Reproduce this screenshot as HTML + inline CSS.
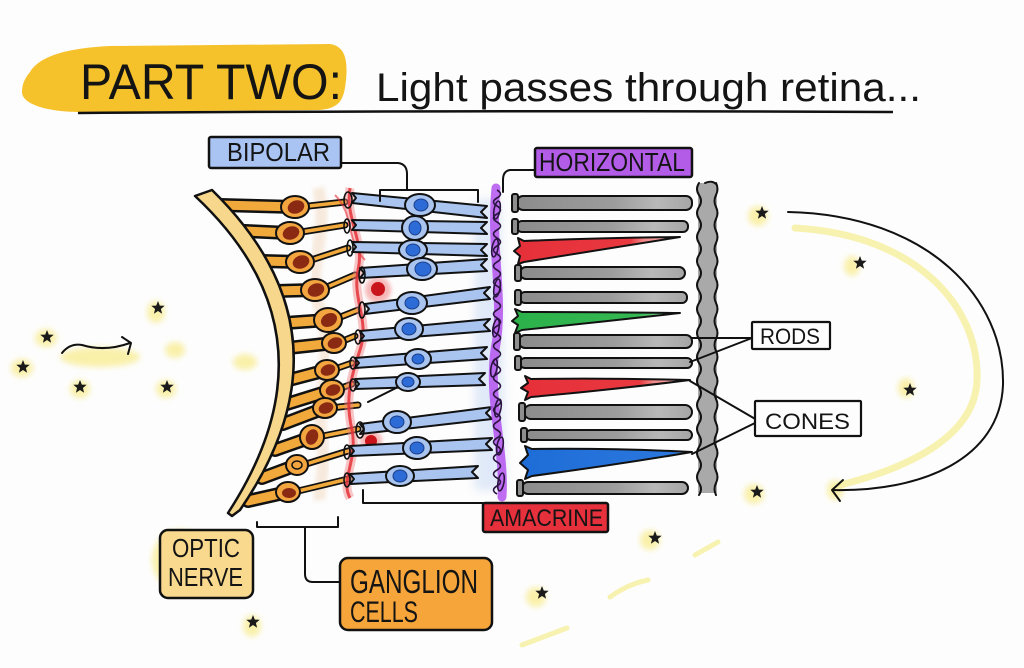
<!DOCTYPE html>
<html><head><meta charset="utf-8">
<style>
html,body{margin:0;padding:0;background:#fdfdfd;}
svg{display:block;}
text{font-family:"Liberation Sans",sans-serif;fill:#141414;}
.bp{fill:#a8c4ef;stroke:#111;stroke-width:2;stroke-linejoin:round;}
.bn{fill:#a8c4ef;stroke:#111;stroke-width:2;}
.bk{fill:#2d6bd6;stroke:#1a3f8a;stroke-width:1;}
.ax1{stroke:#111;stroke-width:14;stroke-linecap:round;fill:none;}
.ax2{stroke:#f2a93b;stroke-width:9;stroke-linecap:round;fill:none;}
.dn1{stroke:#111;stroke-width:7;stroke-linecap:round;fill:none;}
.dn2{stroke:#f2a93b;stroke-width:3.5;stroke-linecap:round;fill:none;}
.gn{fill:#f3a640;stroke:#111;stroke-width:2;}
.gk{fill:#8b2a12;}
.rod{fill:url(#rg);stroke:#111;stroke-width:2;}
.ft{fill:#8e8e8e;stroke:#111;stroke-width:2;}
.ln{stroke:#111;stroke-width:2;fill:none;stroke-linecap:round;stroke-linejoin:round;}
.gl{fill:#f7ea7e;opacity:.65;}
</style></head>
<body>
<svg width="1024" height="668" viewBox="0 0 1024 668" xmlns="http://www.w3.org/2000/svg">
<defs>
<filter id="bl" x="-60%" y="-60%" width="220%" height="220%"><feGaussianBlur stdDeviation="3"/></filter>
<filter id="bl2" x="-30%" y="-30%" width="160%" height="160%"><feGaussianBlur stdDeviation="2"/></filter>
<filter id="bl3" x="-30%" y="-10%" width="160%" height="120%"><feGaussianBlur stdDeviation="5"/></filter>
<polygon id="st" points="0,-7 1.8,-2.4 6.7,-2.2 2.9,1 4.1,5.7 0,3 -4.1,5.7 -2.9,1 -6.7,-2.2 -1.8,-2.4" fill="#1a1a1a"/>
<linearGradient id="rg" x1="0" x2="1" y1="0" y2="0"><stop offset="0" stop-color="#8c8c8c"/><stop offset="0.55" stop-color="#9c9c9c"/><stop offset="0.8" stop-color="#b8b8b8"/><stop offset="1" stop-color="#a5a5a5"/></linearGradient>
<linearGradient id="rc" x1="0" x2="1" y1="0" y2="0"><stop offset="0" stop-color="#e5303a"/><stop offset="0.7" stop-color="#e9383f"/><stop offset="0.78" stop-color="#f28888"/><stop offset="1" stop-color="#f8c0c0"/></linearGradient>
<linearGradient id="gc" x1="0" x2="1" y1="0" y2="0"><stop offset="0" stop-color="#2cb24a"/><stop offset="0.75" stop-color="#35b752"/><stop offset="1" stop-color="#a8e0b0"/></linearGradient>
<linearGradient id="bc" x1="0" x2="1" y1="0" y2="0"><stop offset="0" stop-color="#1e6cd6"/><stop offset="0.9" stop-color="#2a78de"/><stop offset="1" stop-color="#9cc0ee"/></linearGradient>
</defs>
<rect width="1024" height="668" fill="#fdfdfd"/>

<!-- Title -->
<path d="M30 72 C40 55,70 48,110 46 L330 44 C345 46,348 60,346 80 C344 100,340 108,320 110 L80 112 C50 112,22 105,22 92 C22 84,25 78,30 72 Z" fill="#f6c22c"/>
<text x="80" y="99" font-size="50" textLength="262" lengthAdjust="spacingAndGlyphs">PART TWO:</text>
<text x="376" y="101" font-size="40" textLength="545" lengthAdjust="spacingAndGlyphs">Light passes through retina...</text>
<path d="M78 113 Q480 110 893 112" stroke="#111" stroke-width="2.5" fill="none"/>

<!-- yellow glows / stars -->
<g filter="url(#bl)">
<ellipse cx="100" cy="357" rx="40" ry="10" class="gl"/>
<ellipse cx="175" cy="350" rx="10" ry="8" class="gl"/>
<ellipse cx="245" cy="362" rx="12" ry="8" class="gl"/>
<ellipse cx="46" cy="338" rx="11" ry="9" class="gl"/>
<ellipse cx="22" cy="368" rx="11" ry="9" class="gl"/>
<ellipse cx="80" cy="389" rx="10" ry="9" class="gl"/>
<ellipse cx="156" cy="312" rx="9" ry="11" class="gl"/>
<ellipse cx="166" cy="389" rx="10" ry="9" class="gl"/>
<ellipse cx="758" cy="216" rx="10" ry="10" class="gl"/>
<ellipse cx="852" cy="266" rx="8" ry="10" class="gl"/>
<ellipse cx="906" cy="388" rx="8" ry="10" class="gl"/>
<ellipse cx="754" cy="494" rx="10" ry="10" class="gl"/>
<ellipse cx="650" cy="540" rx="10" ry="10" class="gl"/>
<ellipse cx="536" cy="597" rx="10" ry="10" class="gl"/>
<ellipse cx="252" cy="626" rx="9" ry="11" class="gl"/>
<ellipse cx="835" cy="490" rx="8" ry="10" class="gl"/>
<ellipse cx="180" cy="560" rx="28" ry="30" class="gl" opacity=".4"/>
</g>
<g stroke="#f6ef9c" stroke-width="5" stroke-linecap="round" fill="none" opacity=".8">
<path d="M695 555 L718 542"/>
<path d="M610 597 Q628 584 648 580"/>
<path d="M522 645 L567 628"/>
<path d="M795 228 C920 235,980 310,977 380 C975 440,900 470,840 485" stroke-width="7"/>
</g>
<use href="#st" x="47" y="337"/>
<use href="#st" x="23" y="367"/>
<use href="#st" x="80" y="387"/>
<use href="#st" x="158" y="308"/>
<use href="#st" x="167" y="387"/>
<use href="#st" x="762" y="213"/>
<use href="#st" x="860" y="263"/>
<use href="#st" x="910" y="390"/>
<use href="#st" x="757" y="492"/>
<use href="#st" x="655" y="538"/>
<use href="#st" x="542" y="593"/>
<use href="#st" x="253" y="622"/>

<!-- left arrow -->
<path class="ln" d="M62 353 Q70 343 82 345 Q105 352 130 343"/>
<path class="ln" d="M122 337 L131 343 L128 354"/>

<!-- big arc arrow -->
<path class="ln" stroke-width="1.8" d="M788 212 C930 215,1005 300,1003 385 C1000 460,920 492,833 490"/>
<path class="ln" d="M843 480 L832 490 L840 501"/>

<!-- ganglion haze -->
<path d="M318 188 C330 230,305 270,320 310 C335 350,315 400,322 440 C326 470,318 490,320 500" stroke="#e0a060" stroke-width="12" opacity=".2" fill="none" filter="url(#bl2)"/>

<!-- ganglion axons -->
<g>
<path class="ax1" d="M220 205 L295 207"/><path class="ax2" d="M220 205 L295 207"/>
<path class="ax1" d="M245 231 L290 233"/><path class="ax2" d="M245 231 L290 233"/>
<path class="ax1" d="M262 261 L300 262"/><path class="ax2" d="M262 261 L300 262"/>
<path class="ax1" d="M276 291 L315 290"/><path class="ax2" d="M276 291 L315 290"/>
<path class="ax1" d="M285 323 L328 320"/><path class="ax2" d="M285 323 L328 320"/>
<path class="ax1" d="M288 348 L334 343"/><path class="ax2" d="M288 348 L334 343"/>
<path class="ax1" d="M289 380 L327 370"/><path class="ax2" d="M289 380 L327 370"/>
<path class="ax1" d="M287 404 L332 390"/><path class="ax2" d="M287 404 L332 390"/>
<path class="ax1" d="M283 424 L325 408"/><path class="ax2" d="M283 424 L325 408"/>
<path class="ax1" d="M275 450 L312 437"/><path class="ax2" d="M275 450 L312 437"/>
<path class="ax1" d="M262 478 L297 465"/><path class="ax2" d="M262 478 L297 465"/>
<path class="ax1" d="M248 501 L288 492"/><path class="ax2" d="M248 501 L288 492"/>
</g>
<!-- dendrites -->
<g>
<path class="dn1" d="M300 207 L345 202"/><path class="dn2" d="M300 207 L345 202"/>
<path class="dn1" d="M295 233 L345 225"/><path class="dn2" d="M295 233 L345 225"/>
<path class="dn1" d="M305 262 L348 248"/><path class="dn2" d="M305 262 L348 248"/>
<path class="dn1" d="M320 290 L355 275"/><path class="dn2" d="M320 290 L355 275"/>
<path class="dn1" d="M333 320 L358 310"/><path class="dn2" d="M333 320 L358 310"/>
<path class="dn1" d="M338 343 L355 336"/><path class="dn2" d="M338 343 L355 336"/>
<path class="dn1" d="M332 370 L352 363"/><path class="dn2" d="M332 370 L352 363"/>
<path class="dn1" d="M336 390 L352 384"/><path class="dn2" d="M336 390 L352 384"/>
<path class="dn1" d="M330 408 L358 405"/><path class="dn2" d="M330 408 L358 405"/>
<path class="dn1" d="M318 437 L358 429"/><path class="dn2" d="M318 437 L358 429"/>
<path class="dn1" d="M303 465 L348 451"/><path class="dn2" d="M303 465 L348 451"/>
<path class="dn1" d="M294 492 L348 479"/><path class="dn2" d="M294 492 L348 479"/>
</g>

<!-- optic nerve arc -->
<path d="M195 196 L212 190 Q360 335 240 510 L232 516 L228 513 Q344 335 195 196 Z" fill="#f6d78c" stroke="#111" stroke-width="2.5" stroke-linejoin="round"/>

<!-- ganglion nuclei -->
<g>
<ellipse class="gn" cx="295" cy="207" rx="14" ry="11"/><ellipse class="gk" cx="296" cy="207" rx="8.5" ry="6.5" transform="rotate(-20 296 207)"/>
<ellipse class="gn" cx="290" cy="233" rx="14" ry="11"/><ellipse class="gk" cx="291" cy="233" rx="8.5" ry="6.5" transform="rotate(-20 291 233)"/>
<ellipse class="gn" cx="300" cy="262" rx="14" ry="11"/><ellipse class="gk" cx="301" cy="262" rx="8.5" ry="6.5" transform="rotate(-20 301 262)"/>
<ellipse class="gn" cx="315" cy="290" rx="14" ry="11"/><ellipse class="gk" cx="316" cy="290" rx="8.5" ry="6.5" transform="rotate(-20 316 290)"/>
<ellipse class="gn" cx="328" cy="320" rx="14" ry="12"/><ellipse class="gk" cx="329" cy="320" rx="8.5" ry="6.5" transform="rotate(-30 329 320)"/>
<ellipse class="gn" cx="334" cy="343" rx="12" ry="10"/><ellipse class="gk" cx="335" cy="343" rx="7.5" ry="5.5" transform="rotate(-20 335 343)"/>
<ellipse class="gn" cx="327" cy="370" rx="12" ry="10"/><ellipse class="gk" cx="328" cy="370" rx="7.5" ry="5.5" transform="rotate(-20 328 370)"/>
<ellipse class="gn" cx="332" cy="390" rx="12" ry="10"/><ellipse class="gk" cx="333" cy="390" rx="7.5" ry="5.5" transform="rotate(-20 333 390)"/>
<ellipse class="gn" cx="325" cy="408" rx="12" ry="10"/><ellipse class="gk" cx="326" cy="408" rx="7.5" ry="5.5" transform="rotate(-20 326 408)"/>
<ellipse class="gn" cx="312" cy="437" rx="12" ry="12"/><ellipse class="gk" cx="312" cy="437" rx="6" ry="8" transform="rotate(20 312 437)"/>
<ellipse class="gn" cx="297" cy="465" rx="11" ry="10"/><ellipse cx="297" cy="465" rx="5" ry="4" fill="none" stroke="#111" stroke-width="1.5"/>
<ellipse class="gn" cx="288" cy="492" rx="12" ry="10"/><ellipse class="gk" cx="289" cy="493" rx="7" ry="5"/>
</g>

<!-- red amacrine -->
<path d="M350 188 C345 220,365 240,358 270 C352 300,370 320,360 350 C350 380,345 400,352 430 C358 460,340 480,350 498" stroke="#f08080" stroke-width="9" opacity=".45" fill="none"/>
<path d="M350 188 C345 220,365 240,358 270 C352 300,370 320,360 350 C350 380,345 400,352 430 C358 460,340 480,350 498" stroke="#e3333a" stroke-width="3" opacity=".85" fill="none"/>
<path d="M335 195 C355 215,345 240,365 260" stroke="#e3333a" stroke-width="2" opacity=".6" fill="none"/>
<circle cx="378" cy="290" r="13" fill="#f07070" opacity=".5" filter="url(#bl2)"/>
<circle cx="378" cy="289" r="7" fill="#c8141a"/>
<circle cx="371" cy="441" r="11" fill="#f07070" opacity=".5" filter="url(#bl2)"/>
<circle cx="371" cy="441" r="6" fill="#c8141a"/>

<!-- bipolar haze -->
<path d="M475 200 L500 200 L505 490 L475 490 Z" fill="#a8c4ef" opacity=".35" filter="url(#bl3)"/>

<!-- bipolar cells -->
<g>
<path class="bp" d="M352,193 L487,206 L481,212 L487,218 L352,203 L356,198 Z"/>
<path class="bp" d="M352,220 L487,222 L481,228 L487,234 L352,230 L356,225 Z"/>
<path class="bp" d="M352,242 L487,244 L481,250 L487,256 L352,252 L356,247 Z"/>
<path class="bp" d="M360,268 L487,259 L481,265 L487,271 L360,278 L364,273 Z"/>
<path class="bp" d="M365,304 L490,287 L484,293 L490,299 L365,314 L369,309 Z"/>
<path class="bp" d="M360,331 L490,319 L484,325 L490,331 L360,341 L364,336 Z"/>
<path class="bp" d="M355,358 L487,347 L481,353 L487,359 L355,368 L359,363 Z"/>
<path class="bp" d="M355,379 L485,373 L479,379 L485,385 L355,389 L359,384 Z"/>
<path class="bp" d="M360,424 L492,407 L486,413 L492,419 L360,434 L364,429 Z"/>
<path class="bp" d="M350,446 L492,438 L486,444 L492,450 L350,456 L354,451 Z"/>
<path class="bp" d="M350,474 L478,466 L472,472 L478,478 L350,484 L354,479 Z"/>
<path class="ln" stroke-width="1.6" d="M408 382 L368 402"/>
</g>
<g>
<ellipse class="bn" cx="420" cy="205" rx="15" ry="11"/><ellipse class="bk" cx="421" cy="205" rx="7" ry="6"/>
<ellipse class="bn" cx="415" cy="228" rx="13" ry="12"/><ellipse class="bk" cx="415" cy="228" rx="6" ry="7"/>
<ellipse class="bn" cx="413" cy="250" rx="14" ry="10"/><ellipse class="bk" cx="413" cy="250" rx="7" ry="6"/>
<ellipse class="bn" cx="422" cy="269" rx="15" ry="11"/><ellipse class="bk" cx="423" cy="269" rx="8" ry="7"/>
<ellipse class="bn" cx="412" cy="303" rx="15" ry="11"/><ellipse class="bk" cx="412" cy="303" rx="7" ry="6"/>
<ellipse class="bn" cx="409" cy="329" rx="14" ry="11"/><ellipse class="bk" cx="409" cy="329" rx="7" ry="6"/>
<ellipse class="bn" cx="418" cy="359" rx="13" ry="10"/><ellipse class="bk" cx="418" cy="359" rx="6" ry="5"/>
<ellipse class="bn" cx="408" cy="382" rx="12" ry="9"/><ellipse class="bk" cx="408" cy="382" rx="6" ry="5"/>
<ellipse class="bn" cx="397" cy="422" rx="14" ry="11"/><ellipse class="bk" cx="397" cy="422" rx="7" ry="6"/>
<ellipse class="bn" cx="417" cy="448" rx="14" ry="11"/><ellipse class="bk" cx="417" cy="448" rx="7" ry="6"/>
<ellipse class="bn" cx="400" cy="476" rx="14" ry="10"/><ellipse class="bk" cx="400" cy="476" rx="7" ry="6"/>
</g>
<!-- synapse squiggles -->
<g fill="none" stroke="#111" stroke-width="1.6">
<ellipse cx="348" cy="200" rx="4" ry="8"/>
<ellipse cx="347" cy="226" rx="3" ry="7"/>
<ellipse cx="350" cy="248" rx="3" ry="8"/>
<ellipse cx="362" cy="275" rx="3" ry="8"/>
<ellipse cx="362" cy="310" rx="3" ry="8"/>
<ellipse cx="358" cy="337" rx="3" ry="7"/>
<ellipse cx="353" cy="363" rx="3" ry="6"/>
<ellipse cx="353" cy="385" rx="3" ry="6"/>
<ellipse cx="360" cy="430" rx="4" ry="8"/>
<ellipse cx="347" cy="452" rx="3" ry="7"/>
<ellipse cx="347" cy="480" rx="3" ry="7"/>
</g>

<!-- purple horizontal layer -->
<path d="M496 188 C490 250,505 300,495 350 C488 400,505 450,502 497" stroke="#b454ee" stroke-width="9" opacity=".85" fill="none" stroke-linecap="round"/>
<g fill="none" stroke="#2a1440" stroke-width="1.6">
<path d="M497 190 q7 4 0 8 q-7 4 0 8 q7 4 0 8 q-7 4 0 8 q7 4 0 8 q-7 4 0 8 q7 4 0 8 q-7 4 0 8 q7 4 0 8 q-7 4 0 8 q7 4 0 8 q-7 4 0 8 q7 4 0 8 q-7 4 0 8 q7 4 0 8 q-7 4 0 8 q7 4 0 8 q-7 4 0 8 q7 4 0 8 q-7 4 0 8 q7 4 0 8 q-7 4 0 8 q7 4 0 8 q-7 4 0 8 q7 4 0 8 q-7 4 0 8 q7 4 0 8 q-7 4 0 8 q7 4 0 8 q-7 4 0 8 q7 4 0 8 q-7 4 0 8 q7 4 0 8 q-7 4 0 8 q7 4 0 8 q-7 4 0 8 q7 4 0 8 q-7 4 0 8"/>
<ellipse cx="497" cy="210" rx="3" ry="9" transform="rotate(10 497 210)"/>
<ellipse cx="495" cy="248" rx="3" ry="9" transform="rotate(10 495 248)"/>
<ellipse cx="497" cy="288" rx="3" ry="9" transform="rotate(10 497 288)"/>
<ellipse cx="496" cy="328" rx="3" ry="9" transform="rotate(10 496 328)"/>
<ellipse cx="494" cy="368" rx="3" ry="9" transform="rotate(10 494 368)"/>
<ellipse cx="498" cy="408" rx="3" ry="9" transform="rotate(10 498 408)"/>
<ellipse cx="500" cy="446" rx="3" ry="9" transform="rotate(10 500 446)"/>
<ellipse cx="501" cy="482" rx="3" ry="9" transform="rotate(10 501 482)"/>
</g>

<!-- pigment wall -->
<rect x="698" y="183" width="19" height="310" fill="#a9a9a9"/>
<path class="ln" stroke-width="1.8" d="M699 183 q-4 6 0 12 q4 6 0 12 q-4 6 0 12 q4 6 0 12 q-4 6 0 12 q4 6 0 12 q-4 6 0 12 q4 6 0 12 q-4 6 0 12 q4 6 0 12 q-4 6 0 12 q4 6 0 12 q-4 6 0 12 q4 6 0 12 q-4 6 0 12 q4 6 0 12 q-4 6 0 12 q4 6 0 12 q-4 6 0 12 q4 6 0 12 q-4 6 0 12 q4 6 0 12 q-4 6 0 12 q4 6 0 12 q-4 6 0 12 q4 6 0 12"/>
<path class="ln" stroke-width="1.8" d="M716 183 q3 6 0 12 q-3 6 0 12 q3 6 0 12 q-3 6 0 12 q3 6 0 12 q-3 6 0 12 q3 6 0 12 q-3 6 0 12 q3 6 0 12 q-3 6 0 12 q3 6 0 12 q-3 6 0 12 q3 6 0 12 q-3 6 0 12 q3 6 0 12 q-3 6 0 12 q3 6 0 12 q-3 6 0 12 q3 6 0 12 q-3 6 0 12 q3 6 0 12 q-3 6 0 12 q3 6 0 12 q-3 6 0 12 q3 6 0 12 q-3 6 0 12"/>
<path class="ln" stroke-width="1.8" d="M705 183 Q712 180 716 184"/>

<!-- rods -->
<g>
<rect class="rod" x="517" y="196" width="175" height="14" rx="6"/><rect class="ft" x="512" y="194" width="6" height="18" rx="2"/>
<rect class="rod" x="517" y="221" width="171" height="11" rx="5"/><rect class="ft" x="512" y="219" width="6" height="15" rx="2"/>
<rect class="rod" x="520" y="267" width="165" height="12" rx="6"/><rect class="ft" x="515" y="265" width="6" height="16" rx="2"/>
<rect class="rod" x="520" y="292" width="167" height="11" rx="5"/><rect class="ft" x="515" y="290" width="6" height="15" rx="2"/>
<rect class="rod" x="519" y="335" width="173" height="13" rx="6"/><rect class="ft" x="514" y="333" width="6" height="17" rx="2"/>
<rect class="rod" x="520" y="358" width="172" height="10" rx="5"/><rect class="ft" x="515" y="356" width="6" height="14" rx="2"/>
<rect class="rod" x="524" y="405" width="168" height="14" rx="7"/><rect class="ft" x="519" y="403" width="6" height="18" rx="2"/>
<rect class="rod" x="526" y="430" width="166" height="10" rx="5"/><rect class="ft" x="521" y="428" width="6" height="14" rx="2"/>
<rect class="rod" x="522" y="482" width="166" height="12" rx="6"/><rect class="ft" x="517" y="480" width="6" height="16" rx="2"/>
</g>
<!-- cones -->
<path d="M518,238 L524,241 Q600,238 680,237 Q600,250 524,262 L518,264 L520,256 L514,251 L520,246 Z" fill="url(#rc)" stroke="#111" stroke-width="2" stroke-linejoin="round"/>
<path d="M515,309 L522,312 Q600,312 680,313 Q600,322 522,330 L515,333 L518,325 L512,321 L518,316 Z" fill="url(#gc)" stroke="#111" stroke-width="2" stroke-linejoin="round"/>
<path d="M525,376 L531,379 Q610,378 690,380 Q610,390 531,397 L525,400 L528,392 L521,388 L528,383 Z" fill="url(#rc)" stroke="#111" stroke-width="2" stroke-linejoin="round"/>
<path d="M525,446 L532,449 Q615,448 692,452 Q615,465 532,476 L525,479 L528,470 L520,463 L528,455 Z" fill="url(#bc)" stroke="#111" stroke-width="2" stroke-linejoin="round"/>

<!-- connectors -->
<path class="ln" d="M342 163 L398 163 Q407 164 407 174 L407 190"/>
<path class="ln" d="M380 201 L380 190 L478 190 L478 202"/>
<path class="ln" d="M535 170 L510 170 Q503 171 503 180 L503 192"/>
<path class="ln" d="M363 490 L363 503 L483 503"/>
<path class="ln" d="M257 522 L257 527 L338 527 L338 517"/>
<path class="ln" d="M305 527 L305 574 Q305 582 313 582 L340 582"/>
<path class="ln" d="M752 338 L692 338"/>
<path class="ln" d="M752 338 L690 362"/>
<path class="ln" d="M757 420 L690 381"/>
<path class="ln" d="M757 422 L692 454"/>

<!-- labels -->
<rect x="209" y="137" width="132" height="31" rx="2" fill="#a9c4f2" stroke="#111" stroke-width="2.5"/>
<text x="227" y="161" font-size="26" textLength="103" lengthAdjust="spacingAndGlyphs">BIPOLAR</text>

<rect x="535" y="148" width="157" height="29" rx="2" fill="#b35ce8" stroke="#111" stroke-width="2.5"/>
<text x="539" y="171" font-size="26" textLength="146" lengthAdjust="spacingAndGlyphs">HORIZONTAL</text>

<rect x="483" y="503" width="125" height="29" rx="2" fill="#e6303c" stroke="#111" stroke-width="2.5"/>
<text x="490" y="526" font-size="24" textLength="113" lengthAdjust="spacingAndGlyphs">AMACRINE</text>

<rect x="160" y="530" width="93" height="68" rx="8" fill="#f8d98e" stroke="#111" stroke-width="2.5"/>
<text x="172" y="557" font-size="26" textLength="68" lengthAdjust="spacingAndGlyphs">OPTIC</text>
<text x="168" y="586" font-size="26" textLength="75" lengthAdjust="spacingAndGlyphs">NERVE</text>

<rect x="340" y="558" width="152" height="72" rx="8" fill="#f5a53a" stroke="#111" stroke-width="2.5"/>
<text x="350" y="593" font-size="33" textLength="128" lengthAdjust="spacingAndGlyphs">GANGLION</text>
<text x="350" y="622" font-size="30" textLength="68" lengthAdjust="spacingAndGlyphs">CELLS</text>

<rect x="752" y="322" width="78" height="27" rx="1" fill="#fdfdfd" stroke="#111" stroke-width="2.2"/>
<text x="760" y="344" font-size="22" textLength="60" lengthAdjust="spacingAndGlyphs">RODS</text>

<rect x="755" y="401" width="106" height="35" rx="1" fill="#fdfdfd" stroke="#111" stroke-width="2.2"/>
<text x="765" y="429" font-size="22" textLength="85" lengthAdjust="spacingAndGlyphs">CONES</text>
</svg>
</body></html>
